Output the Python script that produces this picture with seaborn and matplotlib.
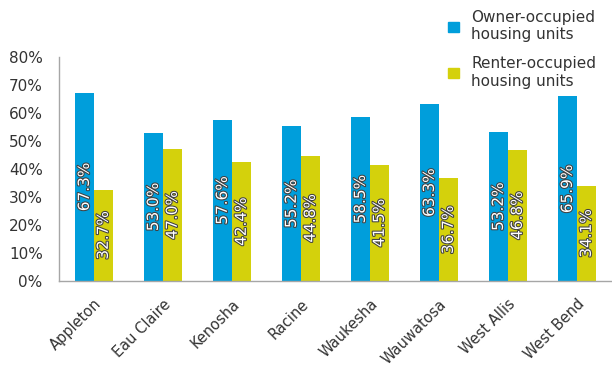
import pandas as pd
import matplotlib.pyplot as plt
import matplotlib.patheffects as pe
from matplotlib.ticker import PercentFormatter
from matplotlib.patches import Patch
import seaborn as sns

# dados
cities = ["Appleton", "Eau Claire", "Kenosha", "Racine", "Waukesha",
          "Wauwatosa", "West Allis", "West Bend"]
owner = [67.3, 53.0, 57.6, 55.2, 58.5, 63.3, 53.2, 65.9]
renter = [32.7, 47.0, 42.4, 44.8, 41.5, 36.7, 46.8, 34.1]
series = ["Owner-occupied\nhousing units", "Renter-occupied\nhousing units"]
colors = ["#009EDB", "#D4D10C"]

df = pd.DataFrame({
    "city": cities * 2,
    "pct": owner + renter,
    "type": [series[0]] * len(cities) + [series[1]] * len(cities),
})

sns.set_style("white")
plt.rcParams["font.family"] = ["DejaVu Sans"]

fig = plt.figure(figsize=(6.12, 3.7), dpi=100)
ax = fig.add_axes([0.097, 0.24, 0.902, 0.606])

sns.barplot(data=df, x="city", y="pct", hue="type", palette=colors,
            width=0.55, gap=0, saturation=1, linewidth=0, ax=ax, legend=False)

# rótulos dentro das barras
for cont, vals in zip(ax.containers, [owner, renter]):
    ax.bar_label(cont, labels=[f"{v:.1f}%" for v in vals], label_type="center",
                 rotation=90, color="white", fontsize=11,
                 path_effects=[pe.withStroke(linewidth=1.5, foreground="#404040")])

ax.set_ylim(0, 80)
ax.set_xlim(-0.5, 7.5)
ax.set_yticks(range(0, 81, 10))
ax.yaxis.set_major_formatter(PercentFormatter(decimals=0))
ax.tick_params(axis="y", labelsize=11, colors="#333333", length=0, pad=12)
ax.tick_params(axis="x", labelsize=10.5, colors="#333333", length=0, pad=11)
plt.setp(ax.get_xticklabels(), rotation=45, ha="right", rotation_mode="anchor")
ax.set_xlabel("")
ax.set_ylabel("")

for s in ["top", "right"]:
    ax.spines[s].set_visible(False)
for s in ["left", "bottom"]:
    ax.spines[s].set_color("#A6A6A6")
    ax.spines[s].set_linewidth(1)

handles = [Patch(color=c) for c in colors]
fig.legend(handles, series, loc="upper left", bbox_to_anchor=(0.71, 1.01),
           frameon=False, fontsize=11, handlelength=0.7, handleheight=0.7,
           handletextpad=0.8, labelspacing=0.9, labelcolor="#333333")

fig.savefig("out.png", dpi=100)
